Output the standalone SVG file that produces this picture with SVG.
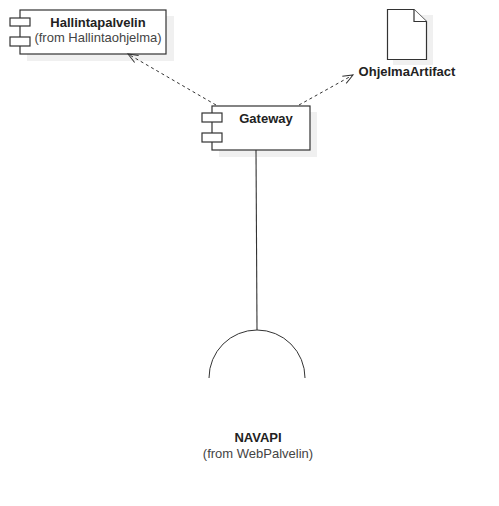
<svg xmlns="http://www.w3.org/2000/svg" width="499" height="506" viewBox="0 0 499 506">
<defs>
<marker id="open" markerUnits="userSpaceOnUse" markerWidth="14" markerHeight="12" refX="11" refY="6" orient="auto"><path d="M1 2 L11 6 L1 10" fill="none" stroke="#333" stroke-width="1"/></marker>
</defs>
<style>
.shadow{fill:#f0f0f0;stroke:none}
.box{fill:#fff;stroke:#333;stroke-width:1.2}
.t{font-family:"Liberation Sans",Arial,sans-serif;font-size:13px;text-anchor:middle}
.b{font-weight:bold;fill:#222}
.s{fill:#444}
.dash{fill:none;stroke:#333;stroke-width:1;stroke-dasharray:3 3}
</style>
<rect width="499" height="506" fill="#fff"/>
<g id="Hallintapalvelin">
<rect class="shadow" x="27" y="16" width="147" height="45"/>
<rect class="box" x="20" y="10" width="146" height="44"/>
<rect class="box" x="10" y="18" width="20" height="8"/>
<rect class="box" x="10" y="37" width="20" height="9"/>
<text class="t b" x="98" y="27">Hallintapalvelin</text>
<text class="t s" x="98" y="42">(from Hallintaohjelma)</text>
</g>
<g id="OhjelmaArtifact">
<path class="shadow" d="M393 15 H433 V65 H393Z"/>
<path class="box" d="M387.500 9.500 H414 L426.500 21.500 V59.500 H387.500Z"/>
<path class="box" d="M414 9.500 V21.500 H426.500"/>
<text class="t b" x="407" y="76">OhjelmaArtifact</text>
</g>
<g id="Gateway">
<rect class="shadow" x="219" y="112" width="98" height="45"/>
<rect class="box" x="212" y="106" width="98" height="44"/>
<rect class="box" x="202" y="113" width="20" height="9"/>
<rect class="box" x="202" y="133" width="20" height="9"/>
<text class="t b" x="266" y="123">Gateway</text>
</g>
<g id="NAVAPI">
<path d="M209 378 A48 48 0 0 1 305 378" fill="none" stroke="#333" stroke-width="1"/>
<text class="t b" x="258" y="442">NAVAPI</text>
<text class="t s" x="258" y="458">(from WebPalvelin)</text>
</g>
<g id="connectors">
<line class="dash" x1="216" y1="105" x2="128" y2="54" marker-end="url(#open)"/>
<line class="dash" x1="299" y1="105" x2="353" y2="75" marker-end="url(#open)"/>
<line x1="256" y1="150" x2="257" y2="330" stroke="#333" stroke-width="1.1"/>
</g>
</svg>
